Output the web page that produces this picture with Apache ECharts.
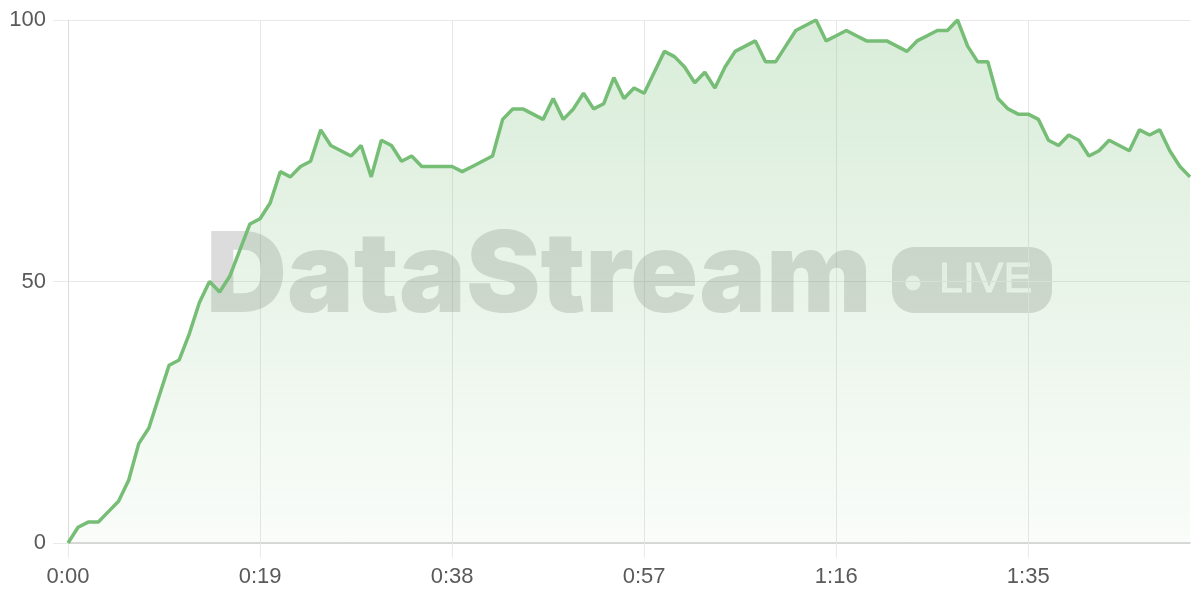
<!DOCTYPE html>
<html>
<head>
<meta charset="utf-8">
<script src="https://cdn.jsdelivr.net/npm/echarts@6/dist/echarts.min.js"></script>
<style>
html,body{margin:0;padding:0;background:#fff;}
#chart{width:1200px;height:600px;}
</style>
</head>
<body>
<div id="chart"></div>
<script>
// seconds elapsed (0..111)
const seconds = [];
for (let i = 0; i <= 111; i++) seconds.push(i);

const values = [
  0, 3, 4, 4, 6, 8, 12, 19, 22, 28,
  34, 35, 40, 46, 50, 48, 51, 56, 61, 62,
  65, 71, 70, 72, 73, 79, 76, 75, 74, 76,
  70, 77, 76, 73, 74, 72, 72, 72, 72, 71,
  72, 73, 74, 81, 83, 83, 82, 81, 85, 81,
  83, 86, 83, 84, 89, 85, 87, 86, 90, 94,
  93, 91, 88, 90, 87, 91, 94, 95, 96, 92,
  92, 95, 98, 99, 100, 96, 97, 98, 97, 96,
  96, 96, 95, 94, 96, 97, 98, 98, 100, 95,
  92, 92, 85, 83, 82, 82, 81, 77, 76, 78,
  77, 74, 75, 77, 76, 75, 79, 78, 79, 75,
  72, 70
];

const yTicks = [0, 50, 100];
const watermarkText = 'DataStream';
const badgeText = 'LIVE';

function fmt(s) {
  const m = Math.floor(s / 60);
  const r = s % 60;
  return m + ':' + (r < 10 ? '0' + r : r);
}

const chart = echarts.init(document.getElementById('chart'), null, {renderer: 'canvas'});
const fontFam = '"Liberation Sans", Arial, sans-serif';

chart.setOption({
  animation: false,
  grid: {left: 68, right: 10, top: 20, bottom: 57},
  xAxis: {
    type: 'category',
    boundaryGap: false,
    data: seconds.map(fmt),
    axisLine: {show: true, lineStyle: {color: '#cfcfcf', width: 1.5}},
    axisTick: {show: true, interval: 18, length: 15, lineStyle: {color: '#eaeaea'}},
    axisLabel: {interval: 18, margin: 23, color: '#5a5a5a', fontSize: 22, fontFamily: fontFam},
    splitLine: {show: true, interval: 18, lineStyle: {color: '#e8e8e8'}}
  },
  yAxis: {
    type: 'value',
    min: yTicks[0],
    max: yTicks[yTicks.length - 1],
    interval: 50,
    axisLine: {show: true, lineStyle: {color: '#dcdcdc'}},
    axisTick: {show: true, length: 15, lineStyle: {color: '#eaeaea'}},
    axisLabel: {margin: 22, color: '#5a5a5a', fontSize: 22, fontFamily: fontFam},
    splitLine: {show: true, lineStyle: {color: '#e8e8e8'}}
  },
  graphic: [
    {
      type: 'text',
      z: 1,
      left: 206,
      top: 222,
      style: {
        text: watermarkText,
        font: '900 112px Inter, "Liberation Sans", sans-serif',
        fill: 'rgba(95,95,95,0.22)'
      }
    },
    {
      type: 'group',
      z: 1,
      left: 892,
      top: 247,
      children: [
        {type: 'rect', shape: {x: 0, y: 0, width: 160, height: 66, r: 22}, style: {fill: 'rgba(95,95,95,0.22)'}},
        {type: 'circle', shape: {cx: 21, cy: 36, r: 7.5}, style: {fill: 'rgba(255,255,255,0.8)'}},
        {type: 'text', style: {text: badgeText, x: 47, y: 33, verticalAlign: 'middle', font: 'normal 43px "Liberation Sans", sans-serif', fill: 'rgba(255,255,255,0.8)', stroke: 'rgba(255,255,255,0.8)', lineWidth: 0.8}}
      ]
    }
  ],
  series: [{
    type: 'line',
    data: values,
    symbol: 'none',
    z: 3,
    lineStyle: {color: '#76bd76', width: 3.5},
    areaStyle: {
      color: new echarts.graphic.LinearGradient(0, 0, 0, 1, [
        {offset: 0, color: 'rgba(118,189,118,0.40)'},
        {offset: 1, color: 'rgba(118,189,118,0.06)'}
      ])
    }
  }]
});
</script>
</body>
</html>
